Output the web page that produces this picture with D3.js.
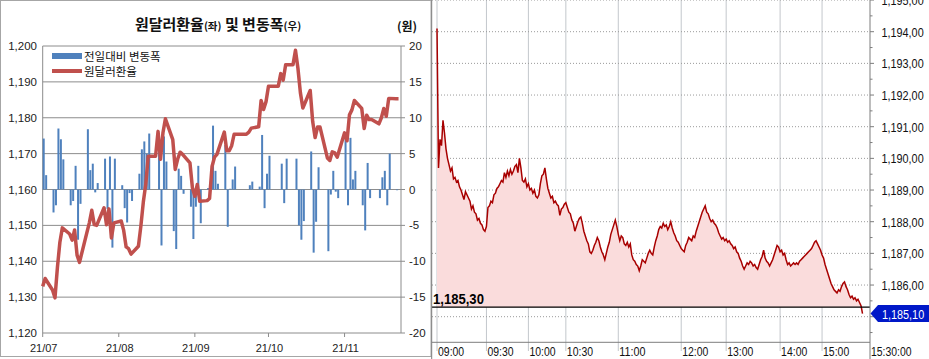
<!DOCTYPE html>
<html><head><meta charset="utf-8">
<script src="https://cdn.jsdelivr.net/npm/d3@7"></script>
<style>
html,body{margin:0;padding:0;background:#fff;}
svg{display:block;}
</style></head><body>
<svg id="c" width="929" height="359"></svg>
<script>
// ---------- LEFT CHART DATA ----------
const dates = [
"2021-07-01","2021-07-02","2021-07-05","2021-07-06","2021-07-07","2021-07-08","2021-07-09","2021-07-12","2021-07-13","2021-07-14","2021-07-15","2021-07-16","2021-07-19","2021-07-20","2021-07-21","2021-07-22","2021-07-23","2021-07-26","2021-07-27","2021-07-28","2021-07-29","2021-07-30",
"2021-08-02","2021-08-03","2021-08-04","2021-08-05","2021-08-06","2021-08-09","2021-08-10","2021-08-11","2021-08-12","2021-08-13","2021-08-16","2021-08-17","2021-08-18","2021-08-19","2021-08-20","2021-08-23","2021-08-24","2021-08-25","2021-08-26","2021-08-27","2021-08-30","2021-08-31",
"2021-09-01","2021-09-02","2021-09-03","2021-09-06","2021-09-07","2021-09-08","2021-09-09","2021-09-10","2021-09-13","2021-09-14","2021-09-15","2021-09-16","2021-09-17","2021-09-20","2021-09-21","2021-09-22","2021-09-23","2021-09-24","2021-09-27","2021-09-28","2021-09-29","2021-09-30",
"2021-10-01","2021-10-04","2021-10-05","2021-10-06","2021-10-07","2021-10-08","2021-10-11","2021-10-12","2021-10-13","2021-10-14","2021-10-15","2021-10-18","2021-10-19","2021-10-20","2021-10-21","2021-10-22","2021-10-25","2021-10-26","2021-10-27","2021-10-28","2021-10-29",
"2021-11-01","2021-11-02","2021-11-03","2021-11-04","2021-11-05","2021-11-08","2021-11-09","2021-11-10","2021-11-11","2021-11-12","2021-11-15","2021-11-16","2021-11-17","2021-11-18","2021-11-19","2021-11-22","2021-11-23"];
const closes = [
1133.0,1135.2,1132.0,1129.8,1138.3,1145.3,1149.3,1147.6,1145.9,1148.7,1141.7,1139.7,1148.0,1150.7,1154.2,1150.2,1150.0,1154.9,1150.2,1154.6,1146.5,1150.7,
1151.2,1148.6,1144.0,1143.5,1142.0,1144.2,1149.8,1156.5,1161.5,1169.3,1169.3,1176.2,1168.4,1175.8,1179.7,1173.9,1165.6,1168.5,1170.4,1169.8,1167.4,1160.5,
1158.1,1161.4,1156.7,1156.9,1157.5,1166.4,1169.0,1169.8,1176.0,1170.8,1170.8,1172.2,1175.4,1175.4,1175.4,1175.4,1176.0,1177.1,1177.5,1184.8,1182.3,1184.5,
1188.8,1188.8,1188.8,1192.3,1190.5,1194.8,1194.8,1198.8,1193.8,1187.0,1182.7,1187.6,1179.0,1174.5,1177.4,1177.4,1168.8,1168.1,1170.5,1170.2,1169.0,
1175.8,1173.6,1180.8,1182.2,1184.8,1182.6,1177.0,1180.7,1179.5,1179.5,1178.3,1180.0,1182.6,1180.4,1185.4,1185.3,1185.3];
const changes = [
7.1,2.0,-3.2,-2.2,8.5,7.0,4.2,-2.2,-1.6,3.3,-7.0,-2.0,8.4,2.7,3.6,-0.4,0.9,4.3,-2.7,4.6,-8.1,4.3,
0.6,-2.6,-4.6,-0.5,-1.6,2.2,5.6,6.7,5.0,7.8,0,6.9,-7.8,7.4,3.9,-5.8,-8.3,2.9,1.9,-0.6,-2.4,-6.9,
-2.4,3.3,-4.7,0.2,0.6,8.9,2.6,0.8,6.2,-5.2,0.1,1.4,3.2,0,0,0,0.6,1.1,0.4,7.6,-2.6,2.2,
4.7,0,0,3.6,-1.9,4.3,0,4.3,-5.0,-7.0,-4.4,5.3,-8.8,-4.5,3.1,0,-8.6,-0.7,2.6,-0.3,-1.2,
7.2,-2.2,7.2,1.4,2.6,-2.2,-5.7,3.7,-1.2,0,-1.2,1.7,2.6,-2.2,5.0,-0.1,0];
const monthTicks = ["2021-07-01","2021-08-01","2021-09-01","2021-10-01","2021-11-01"];
const monthLabels = ["21/07","21/08","21/09","21/10","21/11"];
const leftTicks = [1120,1130,1140,1150,1160,1170,1180,1190,1200];
const rightTicks = [-20,-15,-10,-5,0,5,10,15,20];

// ---------- RIGHT (INTRADAY) DATA ----------
const intraday = [
1194.1,1189.7,1190.6,1190.4,1191.2,1190.8,1190.3,1190.0,1189.8,1189.6,
1189.7,1189.35,1189.4,1189.25,1189.3,1189.1,1189.0,1188.85,1188.7,1188.95,
1188.85,1188.75,1188.65,1188.4,1188.5,1188.3,1188.25,1188.05,1188.1,1187.95,
1187.9,1187.75,1187.7,1187.85,1188.45,1188.5,1188.65,1188.6,1188.85,1188.9,
1189.05,1189.1,1189.2,1189.3,1189.25,1189.55,1189.4,1189.6,1189.45,1189.65,
1189.5,1189.6,1189.75,1189.8,1189.55,1190.0,1189.7,1189.3,1189.25,1189.35,
1189.1,1189.2,1189.0,1189.05,1188.9,1189.0,1188.8,1188.75,1188.85,1189.2,
1189.45,1189.5,1189.7,1189.35,1189.05,1188.9,1188.75,1188.8,1188.6,1188.65,
1188.55,1188.5,1188.2,1188.4,1188.45,1188.55,1188.6,1188.45,1188.3,1188.25,
1188.05,1187.95,1187.7,1187.85,1188.0,1188.1,1188.15,1187.95,1187.7,1187.55,
1187.4,1187.3,1187.05,1187.0,1187.1,1187.25,1187.35,1187.5,1187.4,1187.2,
1187.05,1186.95,1186.8,1187.0,1187.2,1187.35,1187.6,1187.75,1187.9,1188.05,
1187.85,1187.6,1187.4,1187.55,1187.5,1187.3,1187.25,1187.35,1187.2,1187.3,
1186.95,1186.8,1186.75,1186.65,1186.6,1186.45,1186.6,1186.8,1186.75,1186.7,
1186.85,1187.0,1187.1,1187.0,1186.95,1187.2,1187.4,1187.55,1187.75,1187.85,
1187.8,1187.95,1187.85,1187.9,1187.75,1187.85,1188.0,1187.8,1187.65,1187.55,
1187.4,1187.35,1187.25,1187.15,1187.1,1187.05,1187.25,1187.35,1187.5,1187.45,
1187.4,1187.55,1187.5,1187.7,1187.85,1188.0,1188.15,1188.3,1188.4,1188.5,
1188.3,1188.25,1188.1,1188.0,1188.05,1187.95,1187.9,1187.8,1187.65,1187.55,
1187.45,1187.5,1187.4,1187.45,1187.35,1187.4,1187.3,1187.25,1187.15,1187.2,
1187.05,1187.0,1186.85,1186.75,1186.6,1186.5,1186.6,1186.7,1186.65,1186.75,
1186.7,1186.6,1186.65,1186.55,1186.5,1186.65,1186.8,1186.9,1187.1,1186.85,
1186.75,1186.7,1186.6,1186.7,1186.8,1186.95,1187.1,1187.25,1187.2,1187.05,
1187.1,1186.95,1187.0,1186.8,1186.65,1186.7,1186.6,1186.65,1186.7,1186.65,
1186.7,1186.65,1186.75,1186.8,1186.85,1186.9,1186.95,1187.0,1187.05,1187.1,
1187.15,1187.25,1187.35,1187.4,1187.3,1187.2,1187.1,1186.95,1186.85,1186.65,
1186.5,1186.35,1186.2,1186.05,1185.95,1185.85,1185.8,1185.75,1185.85,1185.8,
1185.95,1186.05,1186.1,1185.95,1185.85,1185.7,1185.6,1185.65,1185.55,1185.6,
1185.5,1185.55,1185.45,1185.35,1185.1];
const timeLabels = ["09:00","09:30","10:00","10:30","11:00","12:00","13:00","14:00","15:00","15:30:00"];
const timeTickIdx = [0,33,61,86,121,163,193,229,257,289];
const priceTicks = [1185,1186,1187,1188,1189,1190,1191,1192,1193,1194,1195];
const priceLabelTicks = [1186,1187,1188,1189,1190,1191,1192,1193,1194,1195];
const prevClose = 1185.30;
const lastPrice = 1185.10;

// ---------- DRAW ----------
const svg = d3.select("#c");
const NUM = "'Liberation Sans', Arial, sans-serif";
const KR = "'Noto Sans CJK KR', 'Noto Sans', sans-serif";
// narrow text: real text, horizontally condensed to the reference's width
const cw = (s, dig, sep) => Array.from(s).reduce((a,c)=>a+(/[0-9]/.test(c)?dig:sep),0);
function narrowText(g, x, y, str, size, target, opts={}) {
  const tx = g.append("text").attr("x",0).attr("y",0)
    .attr("font-family",NUM).attr("font-size",size)
    .attr("fill",opts.fill||"#111").attr("font-weight",opts.bold?"bold":null).text(str);
  const w = tx.node().getComputedTextLength() || target;
  tx.attr("transform",`translate(${x},${y}) scale(${target/w},1)`);
  return tx;
}

// Left panel frame
svg.append("rect").attr("x",0.5).attr("y",0.5).attr("width",430.5).attr("height",356)
  .attr("fill","none").attr("stroke","#a6a6a6");

const xL = d3.scaleUtc().domain([new Date("2021-07-01"), new Date("2021-11-24")]).range([42.7, 401]);
const yL = d3.scaleLinear().domain([1120,1200]).range([333,46]);
const yR = d3.scaleLinear().domain([-20,20]).range([333,46]);

const L = svg.append("g");
L.selectAll("line.grid").data(leftTicks).join("line")
  .attr("x1",42.7).attr("x2",401).attr("y1",d=>yL(d)).attr("y2",d=>yL(d))
  .attr("stroke","#8c8c8c").attr("stroke-width",1);
L.append("line").attr("x1",42.7).attr("x2",42.7).attr("y1",yL(1200)).attr("y2",yL(1120)).attr("stroke","#8c8c8c");
L.append("line").attr("x1",401).attr("x2",401).attr("y1",yL(1200)).attr("y2",yL(1120)).attr("stroke","#8c8c8c");
L.selectAll("line.rt").data(rightTicks).join("line")
  .attr("x1",401).attr("x2",405).attr("y1",d=>yR(d)).attr("y2",d=>yR(d)).attr("stroke","#8c8c8c");
L.selectAll("text.yl").data(leftTicks).join("text")
  .attr("x",37).attr("y",d=>yL(d)+4).attr("text-anchor","end")
  .attr("font-family",NUM).attr("font-size",11.5).attr("fill","#222")
  .text(d=>d3.format(",")(d));
L.selectAll("text.yr").data(rightTicks).join("text")
  .attr("x",409).attr("y",d=>yR(d)+4).attr("text-anchor","start")
  .attr("font-family",NUM).attr("font-size",11.5).attr("fill","#222")
  .text(d=>d);
const mDates = monthTicks.map(s=>new Date(s));
L.selectAll("line.mt").data(mDates).join("line")
  .attr("x1",d=>xL(d)).attr("x2",d=>xL(d)).attr("y1",333).attr("y2",337).attr("stroke","#8c8c8c");
L.selectAll("text.ml").data(mDates).join("text")
  .attr("x",d=>xL(d)+1).attr("y",352).attr("text-anchor","middle")
  .attr("font-family",NUM).attr("font-size",11).attr("fill","#222")
  .text((d,i)=>monthLabels[i]);

const rows = dates.map((s,i)=>({d:new Date(s), c:closes[i], v:changes[i]}));
L.selectAll("rect.bar").data(rows.filter(r=>r.v!==0)).join("rect")
  .attr("x",r=>xL(r.d)).attr("width",2)
  .attr("y",r=>Math.min(yR(r.v),yR(0))).attr("height",r=>Math.abs(yR(r.v)-yR(0)))
  .attr("fill","#4f81bd");
L.append("path").datum(rows)
  .attr("d",d3.line().x(r=>xL(r.d)).y(r=>yL(r.c)))
  .attr("fill","none").attr("stroke","#c0504d").attr("stroke-width",3.5)
  .attr("stroke-linejoin","round").attr("stroke-linecap","butt");

L.append("rect").attr("x",52).attr("y",53).attr("width",30).attr("height",6).attr("fill","#4f81bd");
L.append("text").attr("x",84).attr("y",60.5).attr("font-family",KR).attr("font-size",11.5).attr("fill","#111").text("전일대비 변동폭");
L.append("line").attr("x1",52).attr("x2",82).attr("y1",71).attr("y2",71).attr("stroke","#c0504d").attr("stroke-width",4);
L.append("text").attr("x",84).attr("y",75.5).attr("font-family",KR).attr("font-size",11.5).attr("fill","#111").text("원달러환율");

const t = L.append("text").attr("x",218).attr("y",29.5).attr("text-anchor","middle")
  .attr("font-family",KR).attr("font-weight","bold").attr("fill","#111");
t.append("tspan").attr("font-size",15).text("원달러환율");
t.append("tspan").attr("font-size",10.5).text("(좌)");
t.append("tspan").attr("font-size",15).text(" 및 변동폭");
t.append("tspan").attr("font-size",10.5).text("(우)");
L.append("text").attr("x",407).attr("y",30.5).attr("text-anchor","middle")
  .attr("font-family",KR).attr("font-weight","bold").attr("font-size",12).attr("fill","#111").text("(원)");

// ---------- RIGHT PANEL ----------
const R = svg.append("g");
const xP = d3.scaleLinear().domain([0,289]).range([437,870]);
const yP = d3.scaleLinear().domain([1185,1194]).range([316.7,31.7]);
const fmtP = v => d3.format(",.2f")(v).replace(".",",");

svg.append("defs").append("clipPath").attr("id","pc").append("rect")
  .attr("x",432).attr("y",0).attr("width",438).attr("height",342);

R.selectAll("line.vg").data(timeTickIdx.slice(0,-1)).join("line")
  .attr("x1",d=>xP(d)).attr("x2",d=>xP(d)).attr("y1",0).attr("y2",351)
  .attr("stroke","#c3c7cc").attr("stroke-width",1);
R.selectAll("line.hg").data(priceTicks).join("line")
  .attr("x1",432).attr("x2",870).attr("y1",d=>yP(d)).attr("y2",d=>yP(d))
  .attr("stroke","#9a9a9a").attr("stroke-dasharray","1,2");

const plot = R.append("g").attr("clip-path","url(#pc)");
plot.append("path").datum(intraday)
  .attr("d",d3.area().x((d,i)=>xP(i)).y0(yP(prevClose)).y1(d=>yP(d)))
  .attr("fill","#fadcdc");
plot.append("path").datum(intraday)
  .attr("d",d3.line().x((d,i)=>xP(i)).y(d=>yP(d)))
  .attr("fill","none").attr("stroke","#a80000").attr("stroke-width",1.5);

R.append("line").attr("x1",432).attr("x2",870).attr("y1",yP(prevClose)).attr("y2",yP(prevClose))
  .attr("stroke","#000").attr("stroke-width",1.2);
narrowText(R, 433, yP(prevClose)-3, fmtP(prevClose), 14.5, cw(fmtP(prevClose),7.2,3.9), {bold:true, fill:"#000"});

R.append("line").attr("x1",431.7).attr("x2",431.7).attr("y1",0).attr("y2",359).attr("stroke","#7d7d7d");
R.append("line").attr("x1",870).attr("x2",870).attr("y1",0).attr("y2",359).attr("stroke","#7d7d7d");
R.append("line").attr("x1",431.7).attr("x2",870).attr("y1",342.3).attr("y2",342.3).attr("stroke","#7d7d7d");

const halfTicks = d3.range(1184.5, 1195.01, 0.5);
R.selectAll("line.pt").data(halfTicks).join("line")
  .attr("x1",870).attr("x2",d=>Number.isInteger(d)?874:872.5)
  .attr("y1",d=>yP(d)).attr("y2",d=>yP(d)).attr("stroke","#7d7d7d");
priceLabelTicks.forEach(v => narrowText(R, 881.5, yP(v)+5, fmtP(v), 13.5, cw(fmtP(v),5.9,3.4)));

timeTickIdx.forEach((idx,i) => narrowText(R, xP(idx)+1, 356, timeLabels[i], 13.5, cw(timeLabels[i],5.9,2.6)));

const ty = yP(lastPrice);
R.append("polygon")
  .attr("points",[[870.5,ty],[878,ty-8.5],[929,ty-8.5],[929,ty+8.5],[878,ty+8.5]].map(p=>p.join(",")).join(" "))
  .attr("fill","#0018c8");
narrowText(R, 882, ty+5, fmtP(lastPrice), 13.5, cw(fmtP(lastPrice),5.9,3.4), {fill:"#fff"});
</script>
</body></html>
